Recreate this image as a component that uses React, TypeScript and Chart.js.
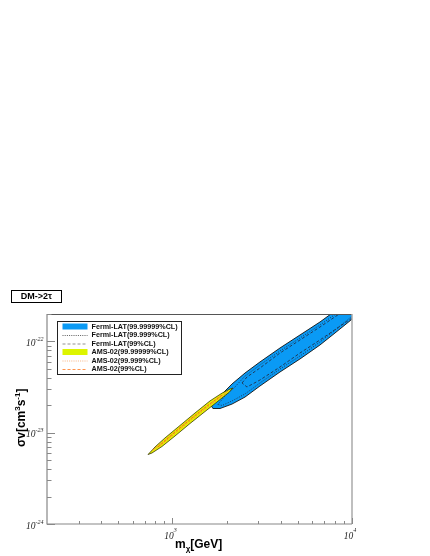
import React, { useEffect, useRef } from "react";
import { Chart, registerables } from "chart.js";

Chart.register(...registerables);

// Axis ranges
const massRange = [200, 10000];
const sigmaVRange = [1e-24, 2e-22];

// Tick values / labels
const xMajorTicks = [1000, 10000];
const xTickExponents = ["3", "4"];
const xMinorTicks = [300, 400, 500, 600, 700, 800, 900, 2000, 3000, 4000, 5000, 6000, 7000, 8000, 9000];
const yMajorTicks = [1e-24, 1e-23, 1e-22];
const yTickExponents = ["-24", "-23", "-22"];
const yMinorTicks = [2e-24, 3e-24, 4e-24, 5e-24, 6e-24, 7e-24, 8e-24, 9e-24, 2e-23, 3e-23, 4e-23, 5e-23, 6e-23, 7e-23, 8e-23, 9e-23, 2e-22];

// Fermi-LAT 99.99999% CL region (closed contour)
const fermiOuterMass = [1640, 1725, 1890, 2145, 2535, 3070, 3970, 5130, 6630, 8040, 11080, 12900, 9870, 8040, 6630, 5130, 3970, 3070, 2535, 2145, 1840, 1680, 1640];
const fermiOuterSigmaV = [1.99e-23, 2.2e-23, 2.66e-23, 3.42e-23, 4.51e-23, 5.96e-23, 8.48e-23, 1.177e-22, 1.634e-22, 2.157e-22, 3.4e-22, 2.85e-22, 1.718e-22, 1.238e-22, 9.15e-23, 6.43e-23, 4.63e-23, 3.25e-23, 2.46e-23, 2.06e-23, 1.843e-23, 1.843e-23, 1.99e-23];

// Fermi-LAT 99.999% CL contour
const fermiMidMass = [1790, 1960, 2200, 2535, 3070, 3970, 5130, 6630, 8570, 11800, 12900, 9870, 8040, 6630, 5130, 3970, 3070, 2535, 2145, 1890, 1790];
const fermiMidSigmaV = [2.04e-23, 2.53e-23, 3.09e-23, 4.18e-23, 5.52e-23, 7.86e-23, 1.091e-22, 1.515e-22, 2.157e-22, 3.4e-22, 2.57e-22, 1.854e-22, 1.335e-22, 9.87e-23, 6.93e-23, 4.99e-23, 3.51e-23, 2.66e-23, 2.23e-23, 1.99e-23, 2.04e-23];

// Fermi-LAT 99% CL contour
const fermiInnerMass = [2440, 2600, 3070, 3970, 5130, 6630, 9140, 12600, 13400, 10000, 6630, 5130, 3970, 3070, 2600, 2440];
const fermiInnerSigmaV = [3.51e-23, 4.08e-23, 5.12e-23, 7.47e-23, 1.038e-22, 1.44e-22, 2.21e-22, 3.4e-22, 2.71e-22, 1.807e-22, 1.038e-22, 7.47e-23, 5.25e-23, 3.78e-23, 3.17e-23, 3.51e-23];

// AMS-02 99.99999% CL region
const amsOuterMass = [731, 799, 908, 1101, 1335, 1618, 1890, 2090, 2170, 2060, 1840, 1518, 1252, 1033, 874, 769, 731];
const amsOuterSigmaV = [5.77e-24, 6.98e-24, 8.76e-24, 1.2e-23, 1.645e-23, 2.23e-23, 2.72e-23, 3.01e-23, 3.09e-23, 2.76e-23, 2.31e-23, 1.708e-23, 1.262e-23, 9.21e-24, 7.07e-24, 6.0e-24, 5.77e-24];

// AMS-02 99.999% CL contour
const amsMidMass = [769, 908, 1101, 1335, 1618, 2040, 1960, 1518, 1252, 1033, 874, 769];
const amsMidSigmaV = [6.39e-24, 8.32e-24, 1.141e-23, 1.545e-23, 2.09e-23, 2.87e-23, 2.66e-23, 1.82e-23, 1.345e-23, 9.81e-24, 7.52e-24, 6.39e-24];

// AMS-02 99% CL contour
const amsInnerMass = [830, 1033, 1252, 1518, 1890];
const amsInnerSigmaV = [6.98e-24, 1.019e-23, 1.396e-23, 1.89e-23, 2.59e-23];

// Legend
const legendLabels = [
  "Fermi-LAT(99.99999%CL)",
  "Fermi-LAT(99.999%CL)",
  "Fermi-LAT(99%CL)",
  "AMS-02(99.99999%CL)",
  "AMS-02(99.999%CL)",
  "AMS-02(99%CL)",
];
const titleText = "DM->2\u03c4";

const BLUE = "#0a9af5";
const YELLOW = "#e6f200";

const toPoints = (m: number[], s: number[]) => m.map((x, i) => ({ x, y: s[i] }));

const legendStyles = [
  { kind: "box", color: BLUE },
  { kind: "line", color: "#333", dash: [1, 1.2] },
  { kind: "line", color: "#777", dash: [3, 2] },
  { kind: "box", color: "#ddf500" },
  { kind: "line", color: "#f5a060", dash: [1, 1.2] },
  { kind: "line", color: "#ff7a20", dash: [3, 2] },
];

function drawPow(ctx: CanvasRenderingContext2D, base: string, exp: string, x: number, yBase: number, yExp: number, align: "center" | "right") {
  ctx.font = "italic 9.5px 'Liberation Serif'";
  const wb = ctx.measureText(base).width;
  ctx.font = "italic 6px 'Liberation Serif'";
  const we = ctx.measureText(exp).width;
  const total = wb + we;
  const start = align === "center" ? x - total / 2 : x - total;
  ctx.textAlign = "left";
  ctx.textBaseline = "alphabetic";
  ctx.font = "italic 9.5px 'Liberation Serif'";
  ctx.fillText(base, start, yBase);
  ctx.font = "italic 6px 'Liberation Serif'";
  ctx.fillText(exp, start + wb, yExp);
}

const decorPlugin = {
  id: "decor",
  afterDraw(chart: any) {
    const ctx: CanvasRenderingContext2D = chart.ctx;
    const xs = chart.scales.x;
    const ys = chart.scales.y;
    const { left, right, top, bottom } = chart.chartArea;
    ctx.save();

    // frame
    ctx.lineWidth = 1;
    ctx.strokeStyle = "#555";
    ctx.beginPath();
    ctx.moveTo(left, top + 0.5);
    ctx.lineTo(right, top + 0.5);
    ctx.stroke();
    ctx.strokeStyle = "#aaa";
    ctx.lineWidth = 1.5;
    ctx.beginPath();
    ctx.moveTo(right, top);
    ctx.lineTo(right, bottom);
    ctx.stroke();
    ctx.strokeStyle = "#888";
    ctx.lineWidth = 1.2;
    ctx.beginPath();
    ctx.moveTo(left, top);
    ctx.lineTo(left, bottom);
    ctx.lineTo(right, bottom);
    ctx.stroke();

    // ticks
    ctx.lineWidth = 1;
    ctx.strokeStyle = "#888";
    const yTick = (v: number, len: number) => {
      const py = Math.round(ys.getPixelForValue(v)) + 0.5;
      ctx.beginPath();
      ctx.moveTo(left, py);
      ctx.lineTo(left + len, py);
      ctx.stroke();
    };
    const xTick = (v: number, len: number) => {
      const px = Math.round(xs.getPixelForValue(v)) + 0.5;
      ctx.beginPath();
      ctx.moveTo(px, bottom);
      ctx.lineTo(px, bottom - len);
      ctx.stroke();
    };
    yMajorTicks.forEach((v) => yTick(v, 8));
    yMinorTicks.forEach((v) => yTick(v, 4.5));
    xMajorTicks.forEach((v) => xTick(v, 6));
    xMinorTicks.forEach((v) => xTick(v, 3));

    // tick labels
    ctx.fillStyle = "#222";
    xMajorTicks.forEach((v, i) => {
      const px = xs.getPixelForValue(v);
      drawPow(ctx, "10", xTickExponents[i], px - 2, bottom + 15, bottom + 8, "center");
    });
    yMajorTicks.forEach((v, i) => {
      const py = ys.getPixelForValue(v);
      drawPow(ctx, "10", yTickExponents[i], left - 3.5, py + 4.5, py - 0.5, "right");
    });

    // axis titles
    ctx.fillStyle = "#000";
    ctx.textAlign = "left";
    ctx.textBaseline = "alphabetic";
    // x title
    let cx = 175;
    const bx = 548;
    ctx.font = "bold 12px 'Liberation Sans'";
    ctx.fillText("m", cx, bx);
    cx += ctx.measureText("m").width;
    ctx.font = "bold 8px 'Liberation Sans'";
    ctx.fillText("\u03c7", cx, bx + 3);
    cx += ctx.measureText("\u03c7").width;
    ctx.font = "bold 12px 'Liberation Sans'";
    ctx.fillText("[GeV]", cx, bx);

    // y title
    ctx.save();
    ctx.translate(25, 447);
    ctx.rotate(-Math.PI / 2);
    const parts: [string, boolean][] = [
      ["\u03c3v[cm", false],
      ["3", true],
      ["s", false],
      ["-1", true],
      ["]", false],
    ];
    let ty = 0;
    parts.forEach(([t, sup]) => {
      ctx.font = sup ? "bold 8px 'Liberation Sans'" : "bold 12px 'Liberation Sans'";
      ctx.fillText(t, ty, sup ? -5 : 0);
      ty += ctx.measureText(t).width;
    });
    ctx.restore();

    // title box
    ctx.fillStyle = "#fff";
    ctx.fillRect(11.5, 290.5, 50, 12);
    ctx.strokeStyle = "#000";
    ctx.lineWidth = 1;
    ctx.strokeRect(11.5, 290.5, 50, 12);
    ctx.fillStyle = "#000";
    ctx.font = "bold 9px 'Liberation Sans'";
    ctx.textAlign = "center";
    ctx.textBaseline = "middle";
    ctx.fillText(titleText, 36.5, 297);

    // legend
    const lx = 57.5, ly = 321.5, lw = 124, lh = 53;
    ctx.fillStyle = "#fff";
    ctx.fillRect(lx, ly, lw, lh);
    ctx.strokeStyle = "#222";
    ctx.lineWidth = 1;
    ctx.strokeRect(lx, ly, lw, lh);
    legendLabels.forEach((label, i) => {
      const cy = 326.5 + i * 8.5;
      const st = legendStyles[i];
      if (st.kind === "box") {
        ctx.fillStyle = st.color;
        ctx.fillRect(62.5, cy - 3, 25, 6);
      } else {
        ctx.save();
        ctx.strokeStyle = st.color;
        ctx.lineWidth = 0.8;
        ctx.setLineDash(st.dash as number[]);
        ctx.beginPath();
        ctx.moveTo(62.5, cy + 0.5);
        ctx.lineTo(87.5, cy + 0.5);
        ctx.stroke();
        ctx.restore();
      }
      ctx.fillStyle = "#111";
      ctx.font = "bold 7.2px 'Liberation Sans'";
      ctx.textAlign = "left";
      ctx.textBaseline = "middle";
      ctx.fillText(label, 91.5, cy + 0.5);
    });

    ctx.restore();
  },
};

export default function App() {
  const ref = useRef<HTMLCanvasElement>(null);
  useEffect(() => {
    const canvas = ref.current;
    if (!canvas) return;
    const chart = new Chart(canvas, {
      type: "line",
      data: {
        datasets: [
          {
            label: legendLabels[5],
            data: toPoints(amsInnerMass, amsInnerSigmaV),
            borderColor: "#ff6a10",
            borderWidth: 1,
            borderDash: [2.5, 1.5],
            fill: false,
            order: 0,
          },
          {
            label: legendLabels[4],
            data: toPoints(amsMidMass, amsMidSigmaV),
            borderColor: "#f08040",
            borderWidth: 1,
            borderDash: [1, 1.2],
            fill: false,
            order: 1,
          },
          {
            label: legendLabels[3],
            data: toPoints(amsOuterMass, amsOuterSigmaV),
            borderColor: "#3a3a00",
            backgroundColor: YELLOW,
            borderWidth: 0.8,
            fill: "shape",
            order: 2,
          },
          {
            label: legendLabels[2],
            data: toPoints(fermiInnerMass, fermiInnerSigmaV),
            borderColor: "#223",
            borderWidth: 0.8,
            borderDash: [3, 2],
            fill: false,
            order: 3,
          },
          {
            label: legendLabels[1],
            data: toPoints(fermiMidMass, fermiMidSigmaV),
            borderColor: "#223",
            borderWidth: 0.8,
            borderDash: [1, 1.5],
            fill: false,
            order: 4,
          },
          {
            label: legendLabels[0],
            data: toPoints(fermiOuterMass, fermiOuterSigmaV),
            borderColor: "#111",
            backgroundColor: BLUE,
            borderWidth: 0.9,
            fill: "shape",
            order: 5,
          },
        ],
      },
      options: {
        responsive: false,
        animation: false,
        devicePixelRatio: 1,
        layout: { padding: { left: 47, right: 78, top: 314, bottom: 32 } },
        elements: { point: { radius: 0, hoverRadius: 0 }, line: { tension: 0 } },
        scales: {
          x: { type: "logarithmic", min: massRange[0], max: massRange[1], display: false },
          y: { type: "logarithmic", min: sigmaVRange[0], max: sigmaVRange[1], display: false },
        },
        plugins: {
          legend: { display: false },
          tooltip: { enabled: false },
        },
        events: [],
      } as any,
      plugins: [decorPlugin],
    });
    return () => chart.destroy();
  }, []);
  return (
    <canvas
      ref={ref}
      width={430}
      height={556}
      style={{ position: "absolute", left: 0, top: 0, display: "block", width: 430, height: 556 }}
    />
  );
}
